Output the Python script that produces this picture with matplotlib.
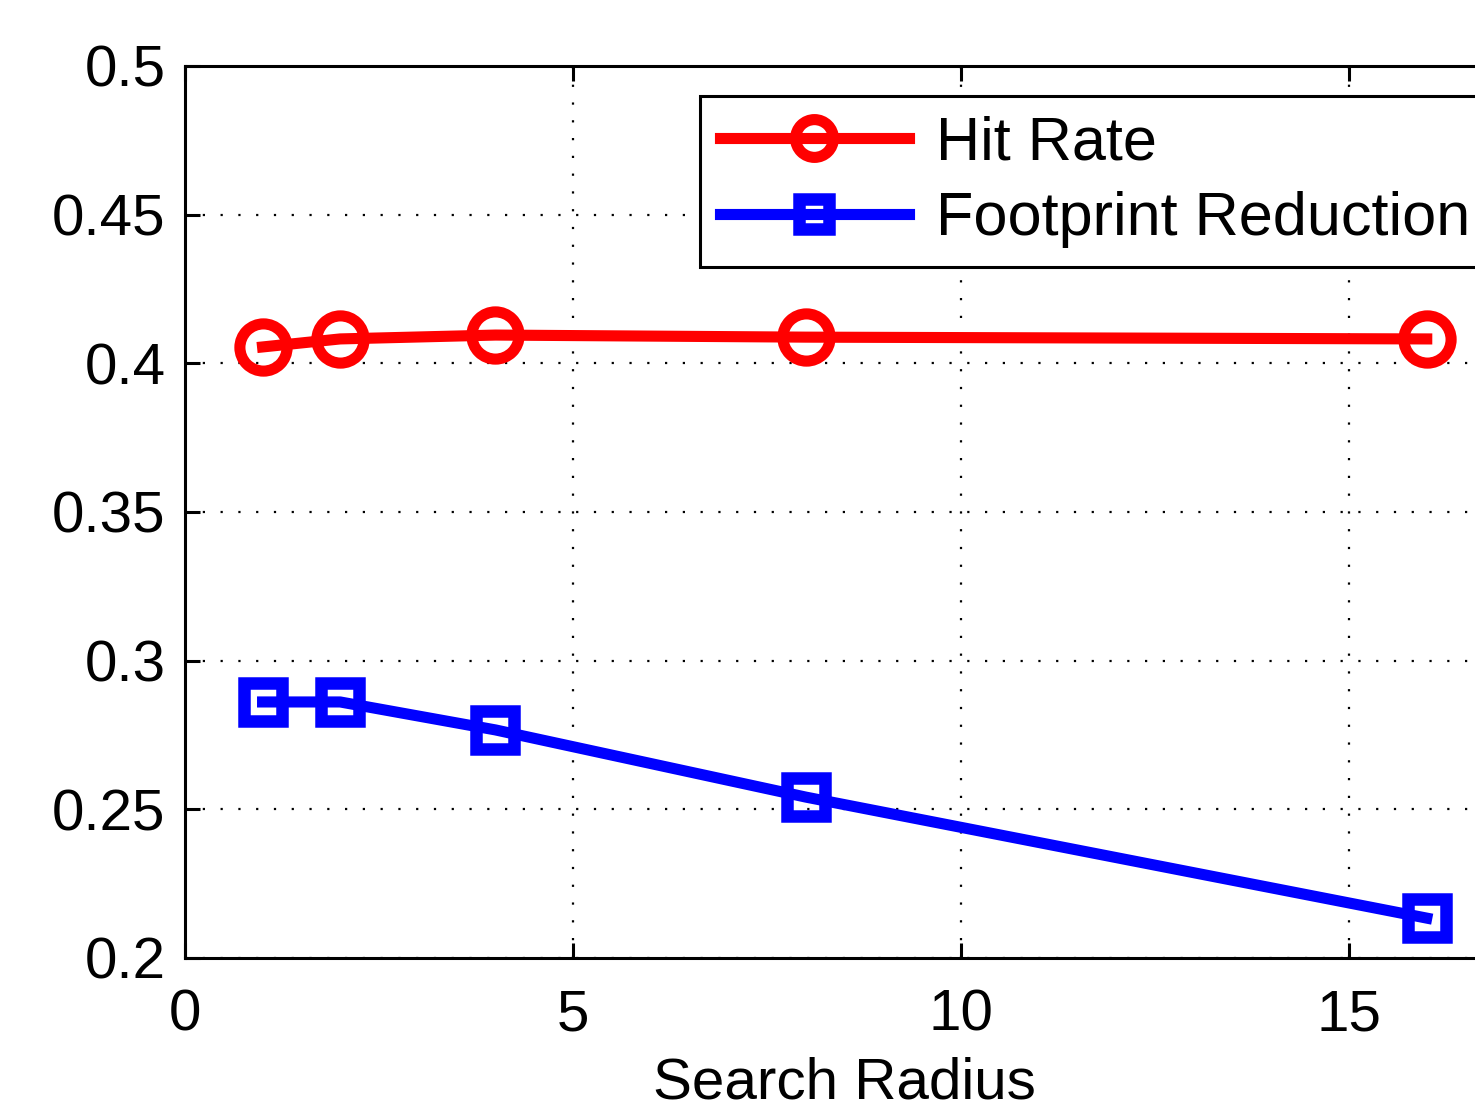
import matplotlib
matplotlib.use("Agg")
import matplotlib.pyplot as plt

# data
radius = [1, 2, 4, 8, 16]
hit_rate = [0.4055, 0.4082, 0.4095, 0.4088, 0.4082]
footprint_reduction = [0.2861, 0.2861, 0.2767, 0.2541, 0.2134]

x_ticks = [0, 5, 10, 15]
y_ticks = [0.2, 0.25, 0.3, 0.35, 0.4, 0.45, 0.5]
y_tick_labels = ["0.2", "0.25", "0.3", "0.35", "0.4", "0.45", "0.5"]

plt.rcParams["font.family"] = ["Liberation Sans", "DejaVu Sans"]

fig = plt.figure(figsize=(14.75, 11.09), dpi=100)
fig.patch.set_facecolor("white")
# axes runs off the right edge like the cropped original
ax = fig.add_axes([0.1254, 0.1362, 0.8945, 0.8043])

ax.plot(radius, hit_rate, color="#FF0000", linewidth=8, marker="o",
        markersize=34, markeredgewidth=8, markerfacecolor="none",
        label="Hit Rate", zorder=3, clip_on=False)
ax.plot(radius, footprint_reduction, color="#0000FF", linewidth=8, marker="s",
        markersize=27, markeredgewidth=9, markerfacecolor="none",
        label="Footprint Reduction", zorder=3, clip_on=False)

ax.set_xlim(0, 17)
ax.set_ylim(0.2, 0.5)
ax.set_xticks(x_ticks)
ax.set_yticks(y_ticks)
ax.set_yticklabels(y_tick_labels)

ax.grid(True, linestyle=(0, (1, 7)), color="black", linewidth=1.6)
ax.set_axisbelow(True)

for side in ("left", "bottom", "top", "right"):
    ax.spines[side].set_linewidth(2.2)
ax.tick_params(axis="both", direction="in", length=11, width=2.2,
               labelsize=42, top=True, right=True, pad=14)
ax.tick_params(axis="x", pad=22)

ax.set_xlabel("Search Radius", fontsize=42, labelpad=10)

leg = ax.legend(loc="upper left", bbox_to_anchor=(700 / 1475, 1 - 96 / 1109),
                bbox_transform=fig.transFigure, prop={"size": 44},
                frameon=True, fancybox=False, edgecolor="black", framealpha=1,
                handlelength=3.1, handletextpad=0.45, borderpad=0.32,
                labelspacing=0.3, borderaxespad=0, markerscale=0.8)
leg.get_frame().set_linewidth(2.2)

fig.savefig("out.png", dpi=100)
